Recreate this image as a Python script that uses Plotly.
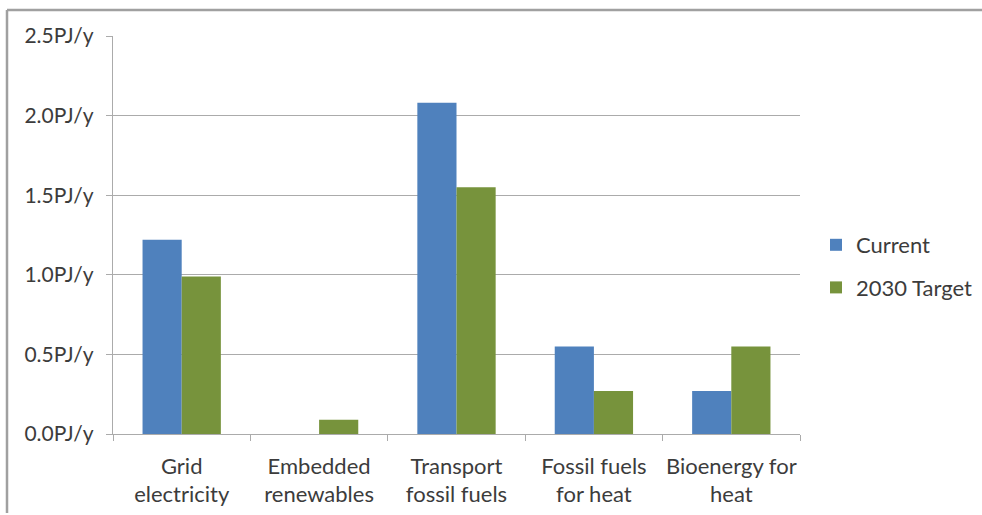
import plotly.graph_objects as go

categories = ["Grid<br>electricity", "Embedded<br>renewables", "Transport<br>fossil fuels",
              "Fossil fuels<br>for heat", "Bioenergy for<br>heat"]
current = [1.22, 0.0, 2.08, 0.55, 0.27]
target_2030 = [0.99, 0.09, 1.55, 0.27, 0.55]
y_ticks = [0.0, 0.5, 1.0, 1.5, 2.0, 2.5]
y_tick_labels = [f"{v:.1f}PJ/y" for v in y_ticks]

W, H = 982, 515
L, R, T, B = 113, 182, 36, 81
pw, ph = W - L - R, H - T - B

FONT = dict(family="Lato, 'Open Sans', sans-serif", size=22, color="#3c3c3c")
YFONT = dict(FONT, size=21)
GRID = "#ababab"

fig = go.Figure()
fig.add_trace(go.Bar(name="Current", x=categories, y=current, marker_color="#4f81bd",
                     marker_line_width=0, legendgroup="cur"))
fig.add_trace(go.Bar(name="2030 Target", x=categories, y=target_2030, marker_color="#77933c",
                     marker_line_width=0, legendgroup="tgt"))


def px_x(px):
    return (px - L) / pw


def px_y(py):
    return (H - B - py) / ph


# chart-area frame (top and left edges)
fig.add_shape(type="line", xref="paper", yref="paper", x0=px_x(7), x1=px_x(1000),
              y0=px_y(10), y1=px_y(10), line=dict(color="#a0a0a0", width=2.5))
fig.add_shape(type="line", xref="paper", yref="paper", x0=px_x(7), x1=px_x(7),
              y0=px_y(10), y1=px_y(513), line=dict(color="#a0a0a0", width=2.5))

fig.update_layout(
    width=W, height=H,
    margin=dict(l=L, r=R, t=T, b=B, autoexpand=False),
    paper_bgcolor="white", plot_bgcolor="white",
    barmode="group", bargap=0.43, bargroupgap=0,
    font=FONT,
    showlegend=True,
    legend=dict(x=px_x(816), y=px_y(224), xanchor="left", yanchor="top",
                font=FONT, tracegroupgap=11, itemwidth=30, bgcolor="rgba(0,0,0,0)"),
    xaxis=dict(showline=True, linecolor=GRID, linewidth=1.3, ticks="outside",
               tickson="boundaries", ticklen=6, tickcolor=GRID, showgrid=False,
               tickfont=FONT, tickangle=0, ticklabelstandoff=12),
    yaxis=dict(range=[0, 2.5], tickvals=y_ticks, ticktext=y_tick_labels,
               showline=True, linecolor=GRID, linewidth=1.3, ticks="outside",
               ticklen=6, tickcolor=GRID, showgrid=True, gridcolor=GRID,
               gridwidth=1.3, zeroline=False, tickfont=YFONT, ticklabelstandoff=8),
)

fig.write_html("out.html")
